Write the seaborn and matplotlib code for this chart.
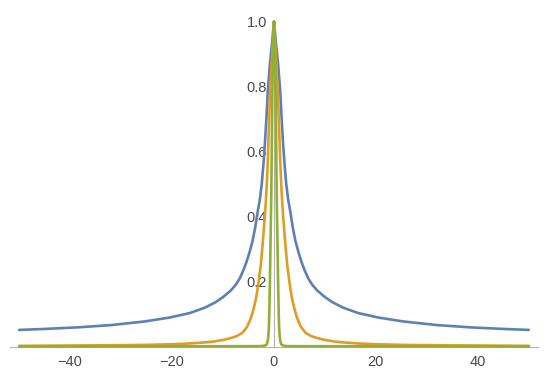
import matplotlib

matplotlib.use("Agg")

import numpy as np
import pandas as pd
import seaborn as sns
from matplotlib import pyplot as plt
from matplotlib.ticker import MultipleLocator

# values (right half, curves are symmetric about x = 0)
blue_x = [0, 0.2, 0.4, 0.6, 0.8, 1.0, 1.2, 1.5, 1.8, 2.1, 2.4, 2.8, 3.2, 3.7, 4.2, 4.8, 5.4, 6.0,
          6.7, 7.5, 8.5, 10, 11.5, 13.5, 16.5, 20.5, 25.4, 31.9, 38.4, 45, 50]
blue_y = [1.0, 0.965, 0.93, 0.9, 0.87, 0.83, 0.79, 0.70, 0.62, 0.555, 0.50, 0.45, 0.415, 0.365, 0.325, 0.29, 0.26, 0.235,
          0.21, 0.19, 0.172, 0.152, 0.136, 0.12, 0.103, 0.089, 0.077, 0.066, 0.059, 0.054, 0.051]

orange_x = [0, 0.2, 0.35, 0.5, 0.7, 0.9, 1.05, 1.2, 1.35, 1.55, 1.8, 2.0, 2.2, 2.4, 2.6, 2.85, 3.1, 3.5,
            4.1, 4.6, 5.3, 6.2, 7.3, 8.5, 9.7, 12, 14, 17, 20, 25, 30, 40, 50]
orange_y = [1.0, 0.94, 0.9, 0.86, 0.8, 0.72, 0.65, 0.58, 0.52, 0.46, 0.40, 0.36, 0.32, 0.285, 0.25, 0.22, 0.19, 0.15,
            0.11, 0.085, 0.06, 0.042, 0.032, 0.026, 0.021, 0.015, 0.012, 0.009, 0.007, 0.005, 0.004, 0.003, 0.002]

green_x = [0, 0.1, 0.2, 0.3, 0.37, 0.43, 0.5, 0.55, 0.6, 0.65, 0.72, 0.8, 0.9, 1.0, 1.1, 1.2, 1.35, 1.5,
           2, 3, 50]
green_y = [1.0, 0.96, 0.9, 0.8, 0.71, 0.62, 0.52, 0.45, 0.4, 0.35, 0.28, 0.2, 0.12, 0.06, 0.035, 0.02, 0.01, 0.005,
           0.002, 0.001, 0.0]

x_ticks = [-40, -20, 0, 20, 40]
x_tick_labels = ["\u221240", "\u221220", "0", "20", "40"]
y_ticks = [0.2, 0.4, 0.6, 0.8, 1.0]
y_tick_labels = ["0.2", "0.4", "0.6", "0.8", "1.0"]

colors = {"blue": "#5E81B5", "orange": "#E19C24", "green": "#8FB032"}


def mirrored(name, xs, ys):
    xs = np.asarray(xs, dtype=float)
    ys = np.asarray(ys, dtype=float)
    return pd.DataFrame({
        "x": np.concatenate([-xs[:0:-1], xs]),
        "y": np.concatenate([ys[:0:-1], ys]),
        "curve": name,
    })


df = pd.concat(
    [
        mirrored("blue", blue_x, blue_y),
        mirrored("orange", orange_x, orange_y),
        mirrored("green", green_x, green_y),
    ],
    ignore_index=True,
)

sns.set_style("white")
plt.rcParams["font.family"] = ["Liberation Sans", "DejaVu Sans"]

fig = plt.figure(figsize=(5.5, 3.73), dpi=100)
ax = fig.add_axes([10 / 550, 26.5 / 373, 528 / 550, 325 / 373])

sns.lineplot(
    data=df,
    x="x",
    y="y",
    hue="curve",
    palette=colors,
    estimator=None,
    linewidth=1.9,
    legend=False,
    ax=ax,
)
for line in ax.lines:
    line.set_clip_on(False)
    line.set_solid_joinstyle("round")

ax.set_xlim(-51.8, 51.8)
ax.set_ylim(0, 1.0)
ax.set_xlabel("")
ax.set_ylabel("")

# Mathematica style axes crossing at the origin
for side in ("top", "right"):
    ax.spines[side].set_visible(False)
ax.spines["left"].set_position(("data", 0))
ax.spines["bottom"].set_position(("data", 0))
for side in ("left", "bottom"):
    ax.spines[side].set_color("#B3B3B3")
    ax.spines[side].set_linewidth(0.8)
    ax.spines[side].set_zorder(0.5)

ax.set_xticks(x_ticks, x_tick_labels)
ax.set_yticks(y_ticks, y_tick_labels)
ax.xaxis.set_minor_locator(MultipleLocator(5))
ax.yaxis.set_minor_locator(MultipleLocator(0.05))
ax.tick_params(which="both", direction="in", color="#B3B3B3", width=0.7,
               labelsize=10.5, labelcolor="#4A4A4A")
ax.tick_params(which="major", length=4)
ax.tick_params(which="minor", length=2.5)
ax.tick_params(axis="x", which="major", pad=6)
ax.tick_params(axis="y", which="major", pad=5)

fig.savefig("out.png", dpi=100)
